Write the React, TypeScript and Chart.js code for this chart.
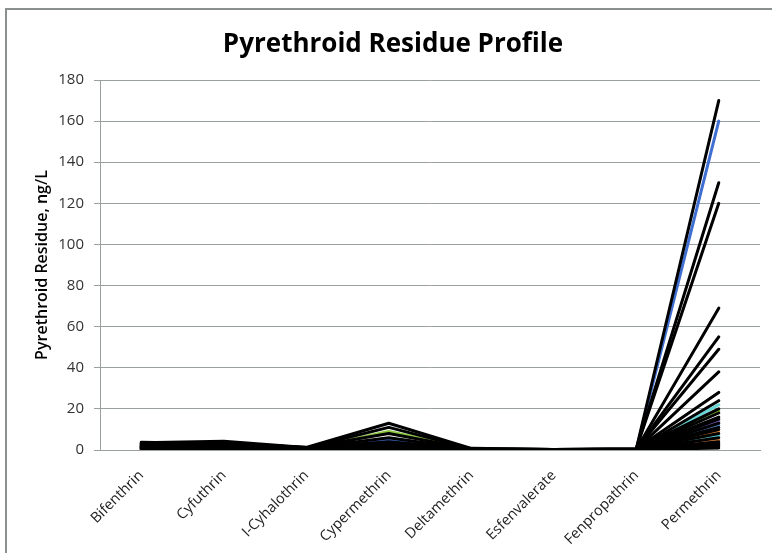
import React, { useEffect, useRef } from "react";
import { Chart, registerables } from "chart.js";

Chart.register(...registerables);

const categories = [
  "Bifenthrin",
  "Cyfuthrin",
  "I-Cyhalothrin",
  "Cypermethrin",
  "Deltamethrin",
  "Esfenvalerate",
  "Fenpropathrin",
  "Permethrin",
];

const yTicks = [0, 20, 40, 60, 80, 100, 120, 140, 160, 180];

// One value per sample (series), per pesticide category
const bifenthrin = [3.5, 3.2, 3.0, 2.8, 2.5, 2.2, 2.0, 1.8, 1.5, 1.2, 1.0, 3.8, 2.6, 2.0, 1.4, 0.8, 3.3, 1.6, 0.6, 2.4, 1.0, 0.5, 1.5, 1.0, 1.2, 1.0, 1.4, 0.9, 0.8, 0.7, 0.6, 0.5];
const cyfuthrin = [4.2, 3.8, 3.5, 3.2, 3.0, 2.8, 2.5, 2.2, 2.0, 1.8, 1.5, 3.0, 2.6, 1.2, 1.0, 0.8, 2.4, 1.4, 0.6, 2.0, 0.5, 0.4, 1.2, 1.0, 1.0, 0.9, 1.5, 0.8, 0.6, 0.6, 0.5, 0.5];
const cyhalothrin = [1.2, 1.0, 1.1, 0.9, 1.0, 0.8, 0.7, 0.9, 0.6, 0.8, 0.5, 1.3, 0.6, 1.0, 0.4, 0.7, 1.1, 0.5, 0.3, 0.9, 0.2, 0.2, 0.5, 0.5, 0.4, 0.3, 0.5, 0.4, 0.3, 0.3, 0.2, 0.2];
const cypermethrin = [13, 11, 8, 6, 4, 3, 2.5, 2, 1.5, 1.2, 1.0, 0.8, 0.6, 0.5, 0.4, 0.3, 0.2, 0.2, 0.1, 0.1, 0, 0, 5, 12, 9, 2, 3, 1.5, 1, 0.8, 0.6, 1.2];
const deltamethrin = [0.8, 0.6, 0.5, 0.4, 0.5, 0.3, 0.4, 0.3, 0.2, 0.3, 0.2, 0.4, 0.2, 0.1, 0.3, 0.1, 0.2, 0.1, 0.1, 0, 0, 0, 0.3, 0.4, 0.4, 0.2, 0.2, 0.1, 0.1, 0.1, 0.1, 0.1];
const esfenvalerate = [0.3, 0.2, 0.2, 0.1, 0.2, 0.1, 0.1, 0.1, 0.1, 0, 0, 0.1, 0, 0, 0, 0, 0, 0, 0, 0, 0, 0, 0.1, 0.1, 0.1, 0, 0, 0, 0, 0, 0, 0];
const fenpropathrin = [0.5, 0.4, 0.6, 0.3, 0.5, 0.4, 0.3, 0.5, 0.2, 0.4, 0.3, 0.2, 0.1, 0.2, 0.3, 0.1, 0.2, 0.1, 0.1, 0, 0, 0, 0.2, 0.2, 0.3, 0.1, 0.1, 0.1, 0.1, 0.1, 0.1, 0.1];
const permethrin = [170, 130, 120, 69, 55, 49, 38, 28, 24, 20, 18, 16, 15, 13, 11, 10, 8, 6, 4, 3, 2, 1, 160, 0.5, 19, 22, 14, 12, 9, 7, 5, 2.5];

const seriesColors = [
  "#000000", "#000000", "#000000", "#000000", "#000000", "#000000", "#000000", "#000000",
  "#000000", "#000000", "#000000", "#000000", "#000000", "#000000", "#000000", "#000000",
  "#000000", "#000000", "#000000", "#000000", "#000000", "#000000",
  "#3f6fd1", "#f2f2f2", "#8cc63f", "#66d6d6", "#8064c8", "#5b8fd6", "#f09040", "#5fd3d3", "#f0904a", "#e8a8a8",
];

const columns = [bifenthrin, cyfuthrin, cyhalothrin, cypermethrin, deltamethrin, esfenvalerate, fenpropathrin, permethrin];

const FONT = "'Open Sans', 'DejaVu Sans', sans-serif";

const framePlugin = {
  id: "framePlugin",
  beforeDraw(chart: any) {
    const ctx = chart.ctx;
    ctx.save();
    ctx.fillStyle = "#ffffff";
    ctx.fillRect(0, 0, chart.width, chart.height);
    ctx.strokeStyle = "#8a9090";
    ctx.lineWidth = 2;
    ctx.strokeRect(6, 9, chart.width + 20, chart.height + 20);
    ctx.restore();
  },
  afterDraw(chart: any) {
    const ctx = chart.ctx;
    ctx.save();
    ctx.fillStyle = "#000000";
    ctx.font = `bold 26px ${FONT}`;
    ctx.textAlign = "center";
    ctx.textBaseline = "alphabetic";
    ctx.fillText("Pyrethroid Residue Profile", 393, 52);
    ctx.restore();
  },
};

export default function App() {
  const ref = useRef<HTMLCanvasElement | null>(null);

  useEffect(() => {
    if (!ref.current) return;
    const datasets = seriesColors.map((color, i) => ({
      label: `Sample ${i + 1}`,
      data: columns.map((col) => col[i]),
      borderColor: color,
      backgroundColor: color,
      borderWidth: 3,
      pointRadius: 0,
      tension: 0,
      borderJoinStyle: "round" as const,
      borderCapStyle: "round" as const,
      fill: false,
    }));
    const chart = new Chart(ref.current, {
      type: "line",
      data: { labels: categories, datasets },
      plugins: [framePlugin],
      options: {
        responsive: false,
        animation: false,
        layout: { padding: { left: 8, right: 12, top: 80, bottom: 0 } },
        plugins: {
          legend: { display: false },
          title: { display: false },
          tooltip: { enabled: false },
        },
        scales: {
          x: {
            offset: true,
            grid: { color: "transparent", drawTicks: false },
            border: { display: true, color: "#9aa0a0", width: 1 },
            ticks: {
              minRotation: 45,
              maxRotation: 45,
              autoSkip: false,
              padding: 17,
              color: "#222222",
              font: { family: FONT, size: 14.5 },
            },
            afterFit: (s: any) => {
              s.height = 103;
            },
          },
          y: {
            min: 0,
            max: 180,
            afterBuildTicks: (s: any) => {
              s.ticks = yTicks.map((v) => ({ value: v }));
            },
            grid: { color: "#9aa0a0", lineWidth: 1, tickLength: 6 },
            border: { display: true, color: "#9aa0a0" },
            ticks: {
              padding: 10,
              color: "#333333",
              font: { family: FONT, size: 15 },
            },
            title: {
              display: true,
              text: "Pyrethroid Residue, ng/L",
              color: "#000000",
              font: { family: FONT, size: 16, weight: "600" },
              padding: { top: 25, bottom: 0 },
            },
            afterFit: (s: any) => {
              s.width = 92;
            },
          },
        },
      },
    });
    return () => chart.destroy();
  }, []);

  return (
    <div style={{ position: "absolute", left: 0, top: 0, width: 772, height: 553 }}>
      <canvas ref={ref} width={772} height={553} style={{ display: "block" }} />
    </div>
  );
}
